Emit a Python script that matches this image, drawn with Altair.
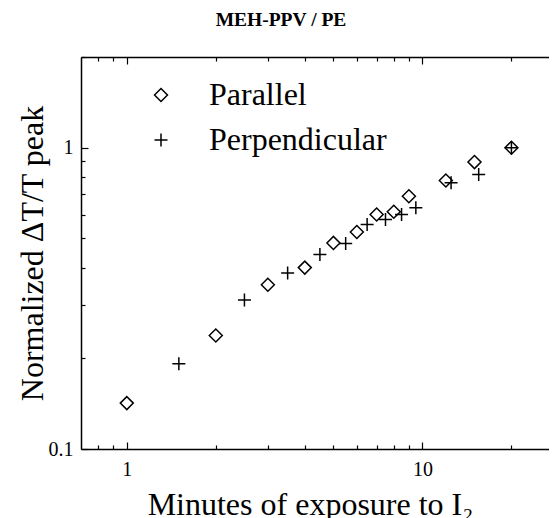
import altair as alt
import pandas as pd

# ---- data ----
series_names = ["Parallel", "Perpendicular"]
par_x = [1, 2, 3, 4, 5, 6, 7, 8, 9, 12, 15, 20]
par_y = [0.142, 0.238, 0.351, 0.40, 0.483, 0.525, 0.60, 0.613, 0.69, 0.778, 0.896, 1.0]
perp_x = [1.5, 2.5, 3.5, 4.5, 5.5, 6.5, 7.5, 8.5, 9.5, 12.5, 15.5, 20, 30]
perp_y = [0.192, 0.312, 0.384, 0.442, 0.481, 0.556, 0.578, 0.60, 0.632, 0.765, 0.815, 1.0, 1.0]

x_major = [1, 10]
x_minor = [0.8, 0.9, 2, 3, 4, 5, 6, 7, 8, 9, 20]
y_major = [0.1, 1]
y_minor = [0.2, 0.3, 0.4, 0.5, 0.6, 0.7, 0.8, 0.9, 2]

x_title = "Minutes of exposure to I₂"
y_title = "Normalized ΔT/T peak"
chart_title = "MEH-PPV / PE"

df = pd.concat([
    pd.DataFrame({"x": par_x, "y": par_y, "series": series_names[0]}),
    pd.DataFrame({"x": perp_x, "y": perp_y, "series": series_names[1]}),
], ignore_index=True)

FONT = "Liberation Serif"
W, H = 468, 392

xs = alt.Scale(type="log", domain=[0.7, 26.8], nice=False)
ys = alt.Scale(type="log", domain=[0.1, 2], nice=False)

tick_cond = {"condition": {"test": "datum.value == 1 || datum.value == 10 || datum.value == 0.1",
                           "value": 7}, "value": 4}

# Layer 1: visible points, labelled axes, legend
x_axis_labels = alt.Axis(
    orient="bottom", values=x_major, format="~g", ticks=False, grid=False,
    domain=True, domainColor="black", domainWidth=1.5,
    labelFont=FONT, labelFontSize=20, labelColor="black", labelPadding=26,
    labelBaseline="alphabetic",
    title=x_title, titleFont=FONT, titleFontSize=32, titleFontWeight="normal",
    titleColor="black", titleX=229, titleY=65, titleBaseline="alphabetic",
    titleAlign="center", titleAnchor="middle",
)
y_axis_labels = alt.Axis(
    orient="left", values=y_major, format="~g", ticks=False, grid=False,
    domain=True, domainColor="black", domainWidth=1.5,
    labelFont=FONT, labelFontSize=20, labelColor="black", labelPadding=8,
    title=y_title, titleFont=FONT, titleFontSize=32, titleFontWeight="normal",
    titleColor="black", titleX=-39, titleY=H / 2, titleAngle=270,
    titleBaseline="alphabetic", titleAlign="center", titleAnchor="middle",
)

points = alt.Chart(df).mark_point(
    filled=False, color="black", strokeWidth=1.5, size=169, opacity=1, clip=True
).encode(
    x=alt.X("x:Q", scale=xs, axis=x_axis_labels),
    y=alt.Y("y:Q", scale=ys, axis=y_axis_labels),
    shape=alt.Shape(
        "series:N",
        scale=alt.Scale(domain=series_names, range=["diamond", "M-1,0H1M0,-1V1"]),
        legend=alt.Legend(
            orient="none", legendX=64, legendY=22, title=None, padding=0,
            labelFont=FONT, labelFontSize=32, labelColor="black", labelOffset=32,
            labelLimit=400,
            symbolSize=169, symbolStrokeWidth=1.5, symbolStrokeColor="black",
            symbolFillColor="transparent", rowPadding=13,
        ),
    ),
)

# Layer 2: inward ticks on bottom edge and left edge
ticks_bl = alt.Chart(df).mark_point(opacity=0, clip=True).encode(
    x=alt.X("x:Q", scale=xs, axis=alt.Axis(
        orient="top", offset=-H, values=x_major + x_minor, labels=False,
        domain=False, grid=False, tickSize=tick_cond, tickColor="black",
        tickWidth=1.2, title=None)),
    y=alt.Y("y:Q", scale=ys, axis=alt.Axis(
        orient="right", offset=-W, values=y_major + y_minor, labels=False,
        domain=False, grid=False, tickSize=tick_cond, tickColor="black",
        tickWidth=1.2, title=None)),
)

# Layer 3: top edge line with inward ticks
ticks_top = alt.Chart(df).mark_point(opacity=0, clip=True).encode(
    x=alt.X("x:Q", scale=xs, axis=alt.Axis(
        orient="bottom", offset=-H, values=x_major + x_minor, labels=False,
        domain=True, domainColor="black", domainWidth=1.5, grid=False,
        tickSize=tick_cond, tickColor="black", tickWidth=1.2, title=None)),
    y=alt.Y("y:Q", scale=ys, axis=None),
)

chart = alt.layer(points, ticks_bl, ticks_top).resolve_axis(
    x="independent", y="independent"
).properties(
    width=W, height=H,
    title=alt.TitleParams(
        text=chart_title, font=FONT, fontSize=19.5, fontWeight="bold",
        color="black", anchor="middle", dx=-34, offset=11, baseline="alphabetic",
    ),
    autosize=alt.AutoSizeParams(type="none"),
    padding={"left": 73, "top": 49, "right": 0, "bottom": 69},
).configure_view(stroke=None).configure(background="white")

chart.save("out.html", embed_options={"renderer": "svg", "actions": False})
